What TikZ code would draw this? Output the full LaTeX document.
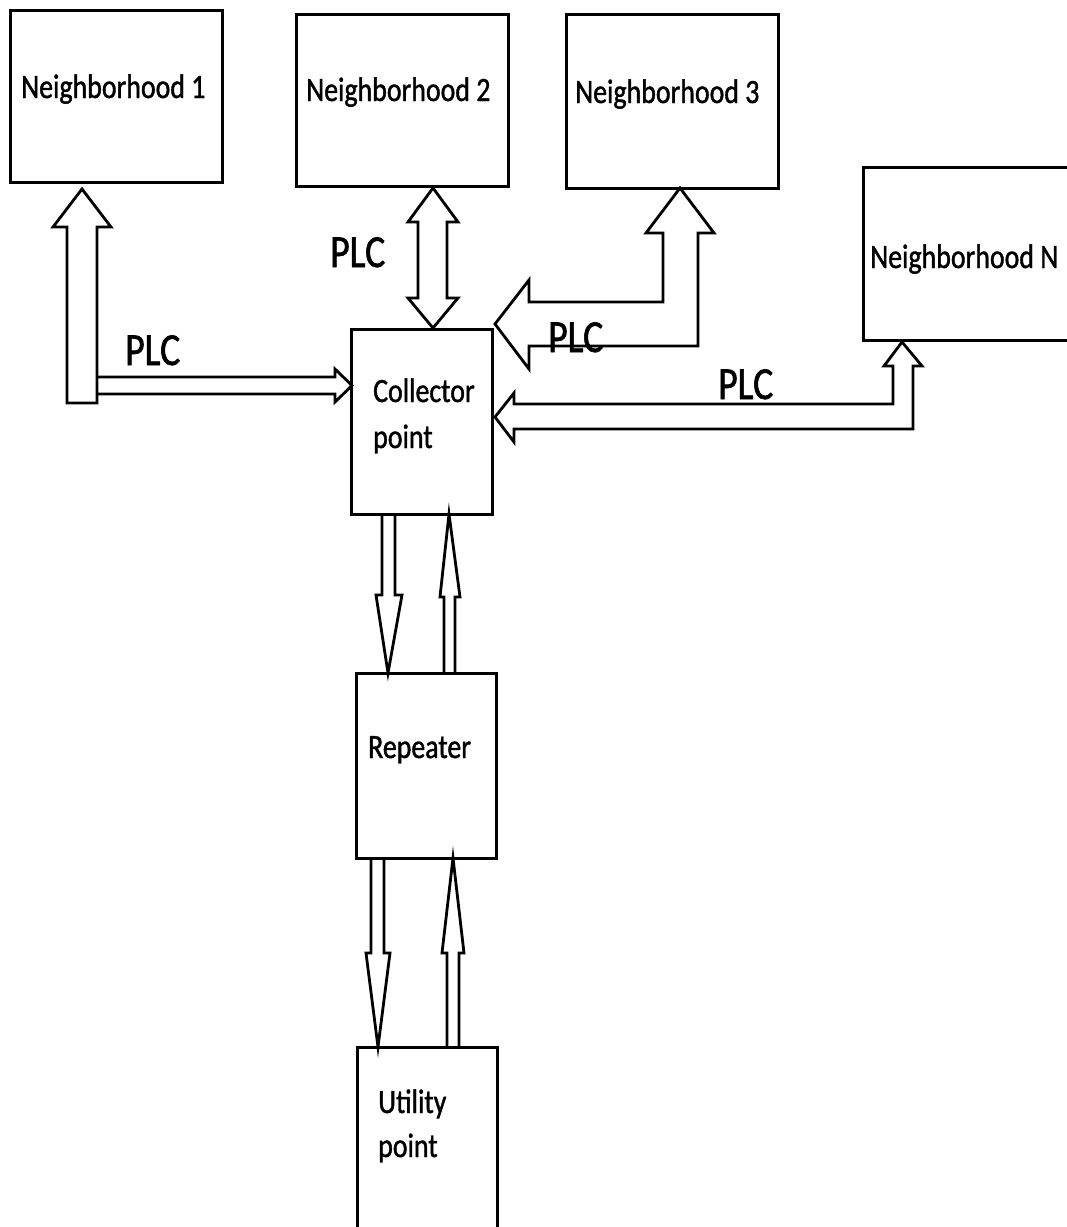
\documentclass[tikz,border=0pt]{standalone}
\usepackage{fontspec}
\setmainfont{Carlito}[FakeStretch=0.82,FakeBold=1.2]
\begin{document}
\begin{tikzpicture}[x=1pt,y=-1pt,
  box/.style={draw=black,line width=3pt,fill=white,inner sep=0pt},
  lbl/.style={anchor=base west,inner sep=0pt,font=\fontsize{34}{40}\selectfont},
  plc/.style={anchor=base west,inner sep=0pt,font=\fontsize{46}{52}\selectfont},
  blk/.style={draw=black,line width=2.8pt,line join=miter}]
\useasboundingbox (0,0) rectangle (1067,1227);
\clip (0,0) rectangle (1067,1227);
% boxes
\draw[box] (10,10) rectangle (222,182) node[pos=.5,inner sep=0pt] (n1) {};
\draw[box] (296,14) rectangle (508,186) node[pos=.5,inner sep=0pt] (n2) {};
\draw[box] (566,14) rectangle (778,188) node[pos=.5,inner sep=0pt] (n3) {};
\draw[box] (863,167) rectangle (1090,340) node[pos=.5,inner sep=0pt] (nn) {};
\draw[box] (351,329) rectangle (492,514) node[pos=.5,inner sep=0pt] (col) {};
\draw[box] (356,673) rectangle (496,858) node[pos=.5,inner sep=0pt] (rep) {};
\draw[box] (357,1047) rectangle (497,1250) node[pos=.5,inner sep=0pt] (uti) {};
% texts
\node[lbl] (t1) at (21,98) {Neighborhood 1};
\node[lbl] (t2) at (306,101) {Neighborhood 2};
\node[lbl] (t3) at (575,103) {Neighborhood 3};
\node[lbl] (tn) at (870,268) {Neighborhood N};
\node[lbl] (tc1) at (373,402) {Collector};
\node[lbl] (tc2) at (373,448) {point};
\node[lbl] (tr) at (368,758) {Repeater};
\node[lbl] (tu1) at (378,1113) {Utility};
\node[lbl] (tu2) at (378,1157) {point};
% N1 arrows
\draw[blk] (67,403) -- (67,227) -- (53,227) -- (82,189) -- (111,227) -- (97,227) -- (97,403) -- cycle;
\draw[blk] (97,377) -- (335,377) -- (335,369) -- (352,385.5) -- (335,402) -- (335,394) -- (97,394);
% N2 double arrow
\draw[blk] (433,188) -- (458,222) -- (447,222) -- (447,298) -- (458,298) -- (433,328) -- (408,298) -- (418,298) -- (418,222) -- (408,222) -- cycle;
% N3 arrow
\draw[blk] (680,188) -- (714,233) -- (698,233) -- (698,346) -- (529,346) -- (529,369) -- (495,324) -- (529,280) -- (529,302) -- (663,302) -- (663,233) -- (646,233) -- cycle;
% NN arrow
\draw[blk] (902,342) -- (922,366) -- (913,366) -- (913,429) -- (514,429) -- (514,442) -- (495,417) -- (514,393) -- (514,404) -- (893,404) -- (893,366) -- (884,366) -- cycle;
% collector <-> repeater
\draw[blk] (382,514) -- (382,595) -- (376,595) -- (388,673) -- (402,595) -- (395,595) -- (395,514);
\draw[blk] (444,673) -- (444,597) -- (440,597) -- (449,514) -- (460,597) -- (455,597) -- (455,673);
% repeater <-> utility
\draw[blk] (371,858) -- (371,953) -- (366,953) -- (378,1047) -- (390,953) -- (384,953) -- (384,858);
\draw[blk] (447,1047) -- (447,953) -- (442,953) -- (453,858) -- (464,953) -- (459,953) -- (459,1047);
% PLC labels
\node[plc] (p1) at (125,365) {PLC};
\node[plc] (p2) at (330,267) {PLC};
\node[plc] (p3) at (548,352) {PLC};
\node[plc] (p4) at (718,399) {PLC};
\end{tikzpicture}
\end{document}
